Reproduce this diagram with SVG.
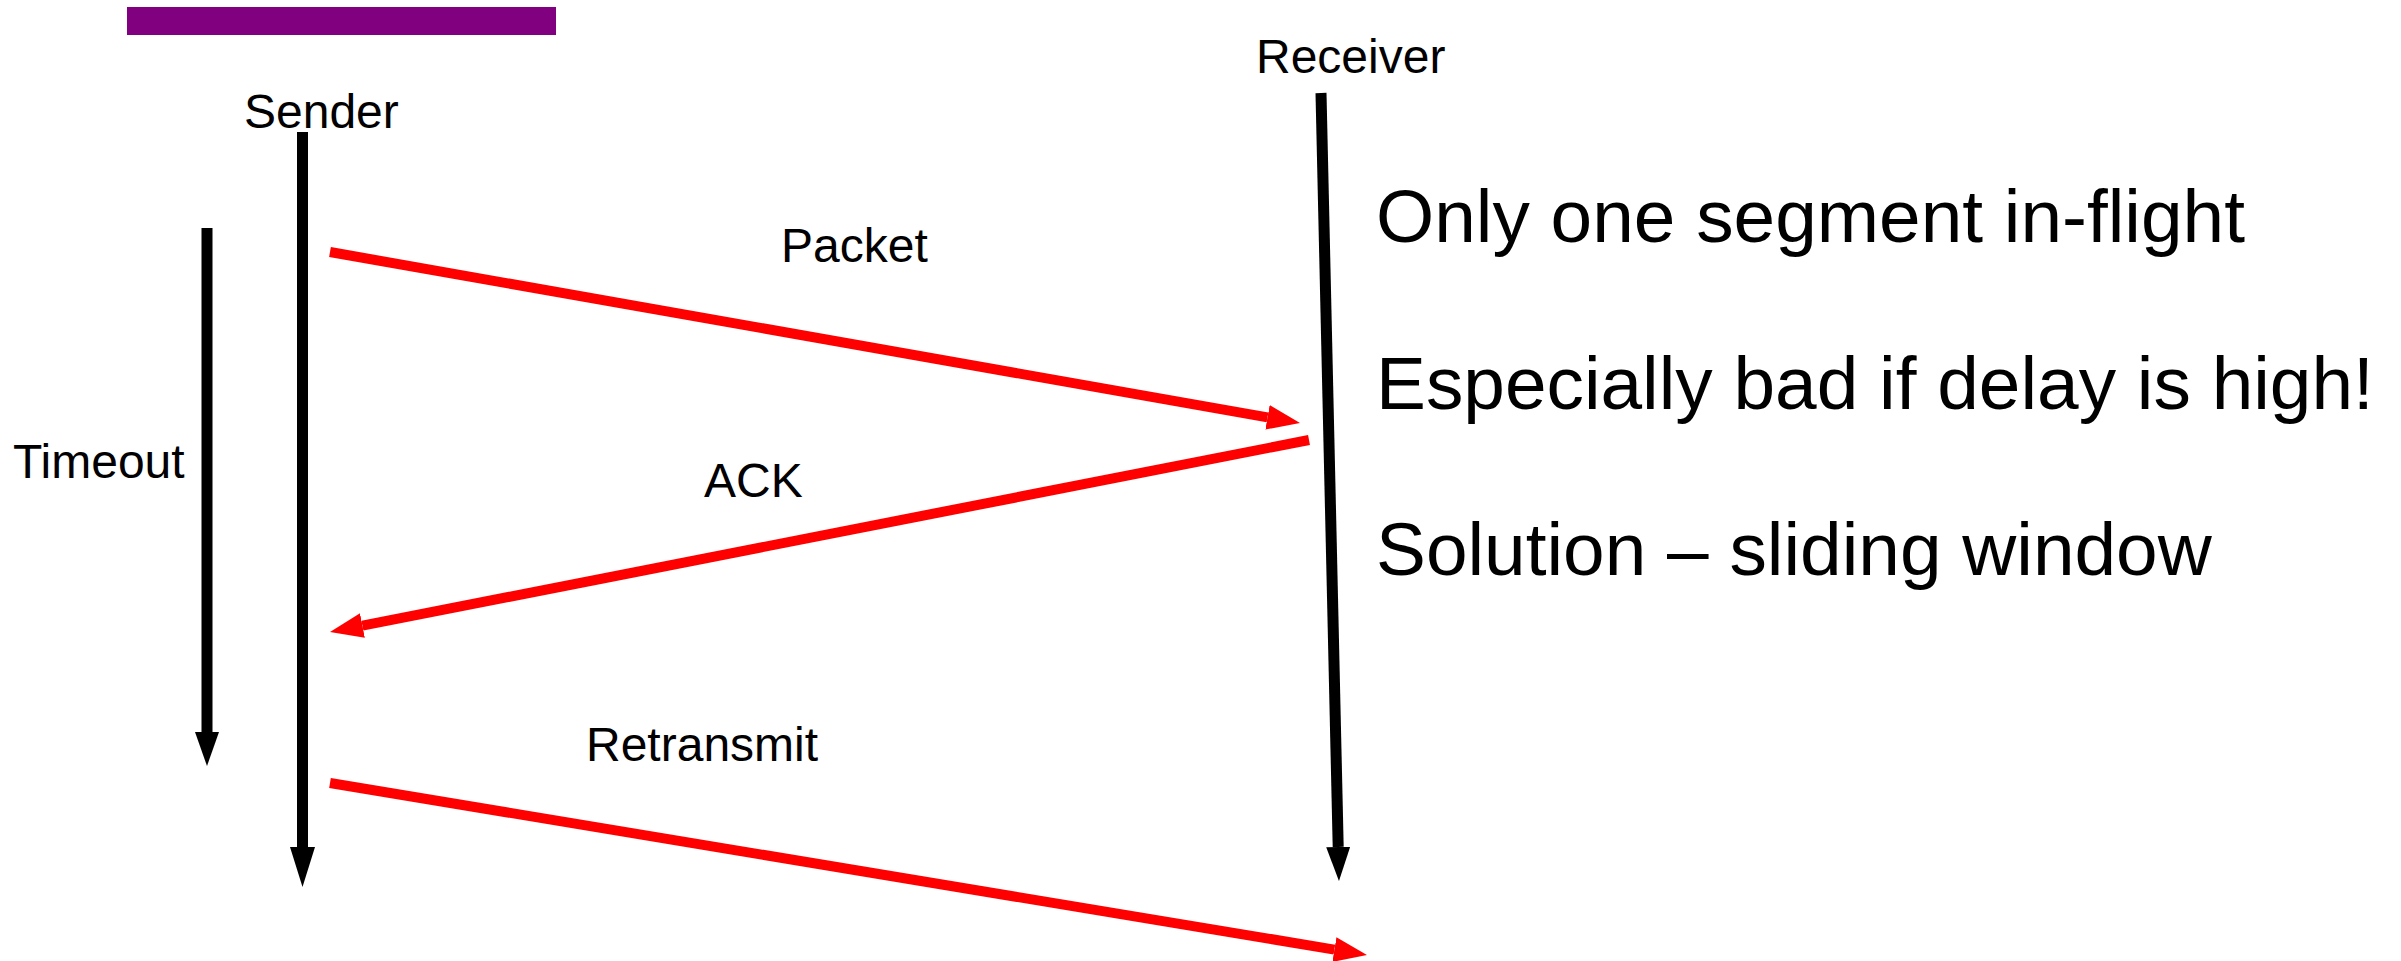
<svg xmlns="http://www.w3.org/2000/svg" width="2401" height="961" viewBox="0 0 2401 961">
  <style>
    .lbl { font-family: "Liberation Sans", Arial, sans-serif; font-size: 48px; fill: #000; }
    .note { font-family: "Liberation Sans", Arial, sans-serif; font-size: 74.8px; fill: #000; }
    .life { stroke: #000; stroke-width: 11; fill: none; }
    .msg { stroke: #ff0000; stroke-width: 10; fill: none; }
  </style>
  <defs>
    <marker id="headRed" markerUnits="userSpaceOnUse" orient="auto" markerWidth="33" markerHeight="25" refX="0" refY="12.5" viewBox="0 0 33 25">
      <path d="M0,0 L33,12.5 L0,25 z" fill="#ff0000"/>
    </marker>
    <marker id="headBlack" markerUnits="userSpaceOnUse" orient="auto" markerWidth="34" markerHeight="24" refX="0" refY="12" viewBox="0 0 34 24">
      <path d="M0,0 L34,12 L0,24 z" fill="#000"/>
    </marker>
    <marker id="headBlackLong" markerUnits="userSpaceOnUse" orient="auto" markerWidth="40" markerHeight="25" refX="0" refY="12.5" viewBox="0 0 40 25">
      <path d="M0,0 L40,12.5 L0,25 z" fill="#000"/>
    </marker>
  </defs>

  <rect x="127" y="7" width="429" height="28" fill="#800080"/>

  <g id="sender">
    <text class="lbl" x="244" y="128">Sender</text>
    <line class="life" x1="302.5" y1="132" x2="302.5" y2="847" marker-end="url(#headBlackLong)"/>
  </g>

  <g id="receiver">
    <text class="lbl" x="1256" y="73">Receiver</text>
    <line class="life" stroke-width="12" x1="1321" y1="93" x2="1338.2" y2="847" marker-end="url(#headBlack)"/>
  </g>

  <g id="timeout">
    <text class="lbl" x="13" y="478">Timeout</text>
    <line class="life" stroke-width="10" x1="207" y1="228" x2="207" y2="732" marker-end="url(#headBlack)"/>
  </g>

  <g id="connectors">
    <line class="msg" x1="330" y1="252" x2="1267.5" y2="417.3" marker-end="url(#headRed)"/>
    <line class="msg" x1="1309" y1="440" x2="362.4" y2="625.6" marker-end="url(#headRed)"/>
    <line class="msg" x1="330" y1="783" x2="1334.4" y2="949.6" marker-end="url(#headRed)"/>
    <text class="lbl" x="781" y="262">Packet</text>
    <text class="lbl" x="704" y="497">ACK</text>
    <text class="lbl" x="586" y="761">Retransmit</text>
  </g>

  <g id="notes">
    <text class="note" x="1376" y="242">Only one segment in-flight</text>
    <text class="note" x="1376" y="409">Especially bad if delay is high!</text>
    <text class="note" x="1376" y="575">Solution – sliding window</text>
  </g>
</svg>
